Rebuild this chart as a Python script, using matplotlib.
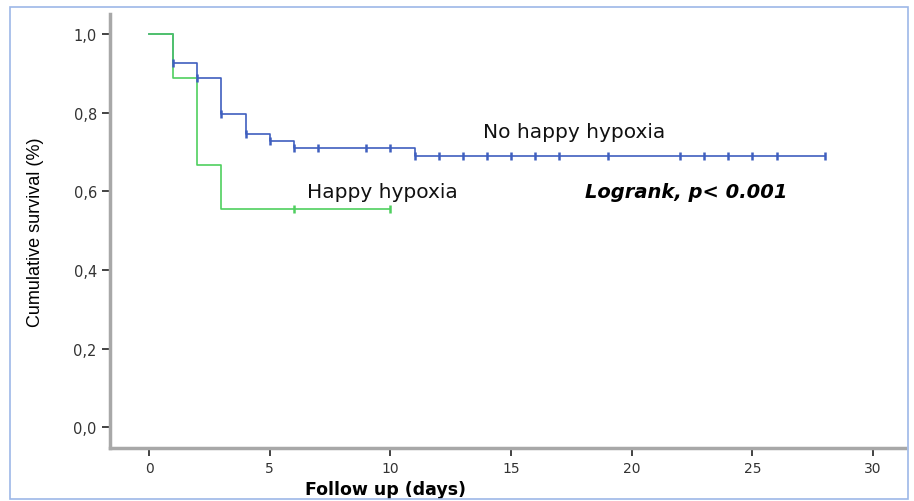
import matplotlib.pyplot as plt
from matplotlib.patches import Rectangle

plt.rcParams['font.family'] = ['DejaVu Sans']

# Kaplan-Meier step data
blue_t = [0, 1, 2, 3, 4, 5, 6, 11, 28]
blue_s = [1.0, 0.926, 0.889, 0.796, 0.745, 0.728, 0.710, 0.690, 0.690]
blue_cens_t = [1, 2, 3, 4, 5, 6, 7, 9, 10, 11, 12, 13, 14, 15, 16, 17, 19, 22, 23, 24, 25, 26, 28]
blue_cens_s = [0.926, 0.889, 0.796, 0.745, 0.728, 0.710, 0.710, 0.710, 0.710,
               0.690, 0.690, 0.690, 0.690, 0.690, 0.690, 0.690, 0.690, 0.690,
               0.690, 0.690, 0.690, 0.690, 0.690]

green_t = [0, 1, 2, 3, 10]
green_s = [1.0, 0.889, 0.667, 0.556, 0.556]
green_cens_t = [6, 10]
green_cens_s = [0.556, 0.556]

x_ticks = [0, 5, 10, 15, 20, 25, 30]
y_ticks = [0.0, 0.2, 0.4, 0.6, 0.8, 1.0]
y_labels = ["0,0", "0,2", "0,4", "0,6", "0,8", "1,0"]

blue = "#3f5fbf"
green = "#4fcf5f"

fig = plt.figure(figsize=(9.14, 5.02), dpi=100)
ax = fig.add_axes([0.1203, 0.1056, 0.87, 0.864])

ax.step(blue_t, blue_s, where="post", color=blue, lw=1.2)
ax.step(green_t, green_s, where="post", color=green, lw=1.2)
ax.plot(blue_cens_t, blue_cens_s, ls="none", marker="|", ms=6, mew=1.8, color=blue)
ax.plot(green_cens_t, green_cens_s, ls="none", marker="|", ms=6, mew=1.8, color=green)

ax.text(17.6, 0.753, "No happy hypoxia", fontsize=14.5, ha="center", va="center", color="#111111")
ax.text(9.65, 0.598, "Happy hypoxia", fontsize=14.5, ha="center", va="center", color="#111111")
ax.text(22.25, 0.598, "Logrank, p< 0.001", fontsize=14, ha="center", va="center",
        fontweight="bold", style="italic", color="black")

ax.set_xlim(-1.62, 31.33)
ax.set_ylim(-0.053, 1.05)
ax.set_xticks(x_ticks)
ax.set_yticks(y_ticks)
ax.set_yticklabels(y_labels)
ax.tick_params(length=6, width=1.2, colors="#222222", labelcolor="#333333", labelsize=10)
ax.tick_params(axis="y", labelsize=10.5)

for s in ["top", "right"]:
    ax.spines[s].set_visible(False)
for s in ["left", "bottom"]:
    ax.spines[s].set_color("#a8a8a8")
    ax.spines[s].set_linewidth(2.5)

ax.set_xlabel("Follow up (days)", fontsize=12.5, fontweight="bold")
ax.xaxis.set_label_coords(0.347, -0.073)
ax.set_ylabel("Cumulative survival (%)", fontsize=13, family=["Liberation Sans", "DejaVu Sans"])
ax.yaxis.set_label_coords(-0.083, 0.5)

# light blue frame round the figure
fig.patches.append(Rectangle((0.011, 0.004), 0.982, 0.98, transform=fig.transFigure,
                             fill=False, edgecolor="#9db8e8", lw=1.2))

fig.savefig("out.png", dpi=100)
